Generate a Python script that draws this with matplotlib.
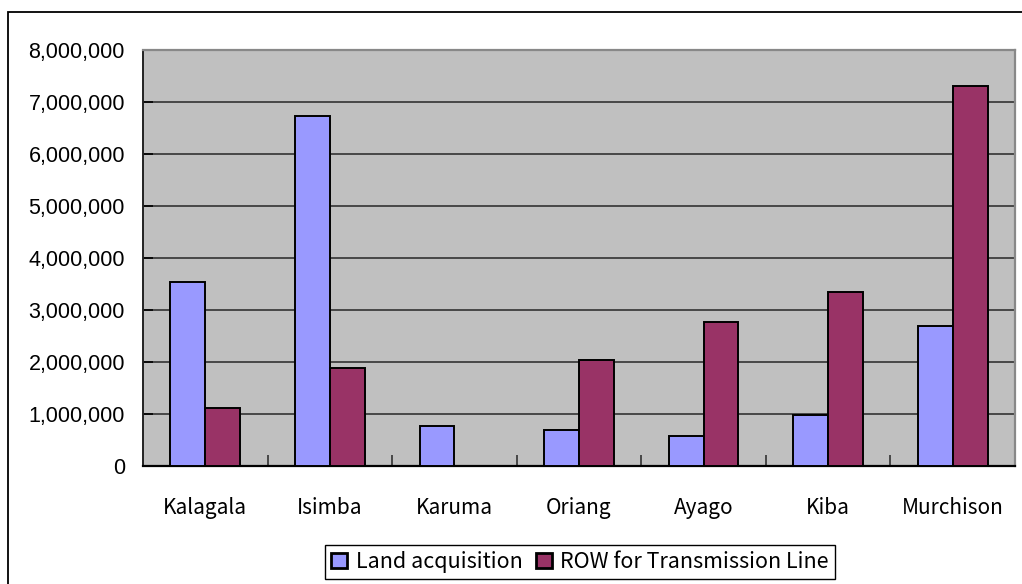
import numpy as np
import matplotlib.pyplot as plt
from matplotlib.patches import Rectangle
from matplotlib.ticker import FuncFormatter, MultipleLocator

sites = ["Kalagala", "Isimba", "Karuma", "Oriang", "Ayago", "Kiba", "Murchison"]
land_acquisition = [3540000, 6730000, 770000, 690000, 580000, 980000, 2690000]
row_transmission = [1120000, 1880000, 0, 2040000, 2770000, 3350000, 7310000]

W, H = 1022, 584
fig = plt.figure(figsize=(W / 100, H / 100), dpi=100)
ax = fig.add_axes([143 / W, 1 - 466 / H, (1015 - 143) / W, (466 - 50) / H])

# outer chart frame
fig.patches.append(Rectangle((8 / W, -0.05), 1.2, 1 - 12 / H + 0.05, transform=fig.transFigure,
                             fill=False, edgecolor="black", linewidth=1.3))

x = np.arange(len(sites))
bw = 0.28
ax.set_facecolor("#C0C0C0")
ax.bar(x - bw / 2, land_acquisition, bw, color="#9999FF", edgecolor="black",
       linewidth=1.4, label="Land acquisition", zorder=3)
ax.bar(x + bw / 2, row_transmission, bw, color="#993366", edgecolor="black",
       linewidth=1.4, label="ROW for Transmission Line", zorder=3)

ax.set_xlim(-0.5, len(sites) - 0.5)
ax.set_ylim(0, 8000000)
ax.yaxis.set_major_locator(MultipleLocator(1000000))
ax.yaxis.set_major_formatter(FuncFormatter(lambda v, p: f"{int(v):,}"))
ax.grid(axis="y", color="#333333", linewidth=1.2, zorder=1)

ax.set_xticks(x)
ax.set_xticklabels(sites, family=["Noto Sans CJK JP", "DejaVu Sans"], fontsize=15)
ax.tick_params(axis="x", length=0, pad=22)
ax.set_xticks(np.arange(0.5, len(sites) - 0.5), minor=True)
ax.tick_params(axis="x", which="minor", direction="in", length=8, width=1.2, color="#333333")
ax.tick_params(axis="y", direction="in", length=7, width=1.2, pad=13, labelsize=15.5)
for lbl in ax.get_yticklabels():
    lbl.set_family(["Liberation Sans", "DejaVu Sans"])

ax.spines["left"].set_color("#222222")
ax.spines["bottom"].set_color("black")
ax.spines["left"].set_linewidth(1.4)
ax.spines["bottom"].set_linewidth(1.6)
ax.spines["top"].set_color("#888888")
ax.spines["right"].set_color("#888888")
ax.spines["top"].set_linewidth(1.6)
ax.spines["right"].set_linewidth(1.6)

leg = fig.legend(loc="center", bbox_to_anchor=(580 / W, 1 - 562 / H), ncol=2,
                 frameon=True, fancybox=False, edgecolor="black", framealpha=1,
                 prop={"family": ["Noto Sans CJK JP", "DejaVu Sans"], "size": 15.5},
                 handlelength=0.75, handleheight=0.75, handletextpad=0.4,
                 columnspacing=0.6, borderpad=0.3, borderaxespad=0)
leg.get_frame().set_linewidth(1.0)
for h in leg.legend_handles:
    h.set_linewidth(2.0)

fig.savefig("out.png", dpi=100)
